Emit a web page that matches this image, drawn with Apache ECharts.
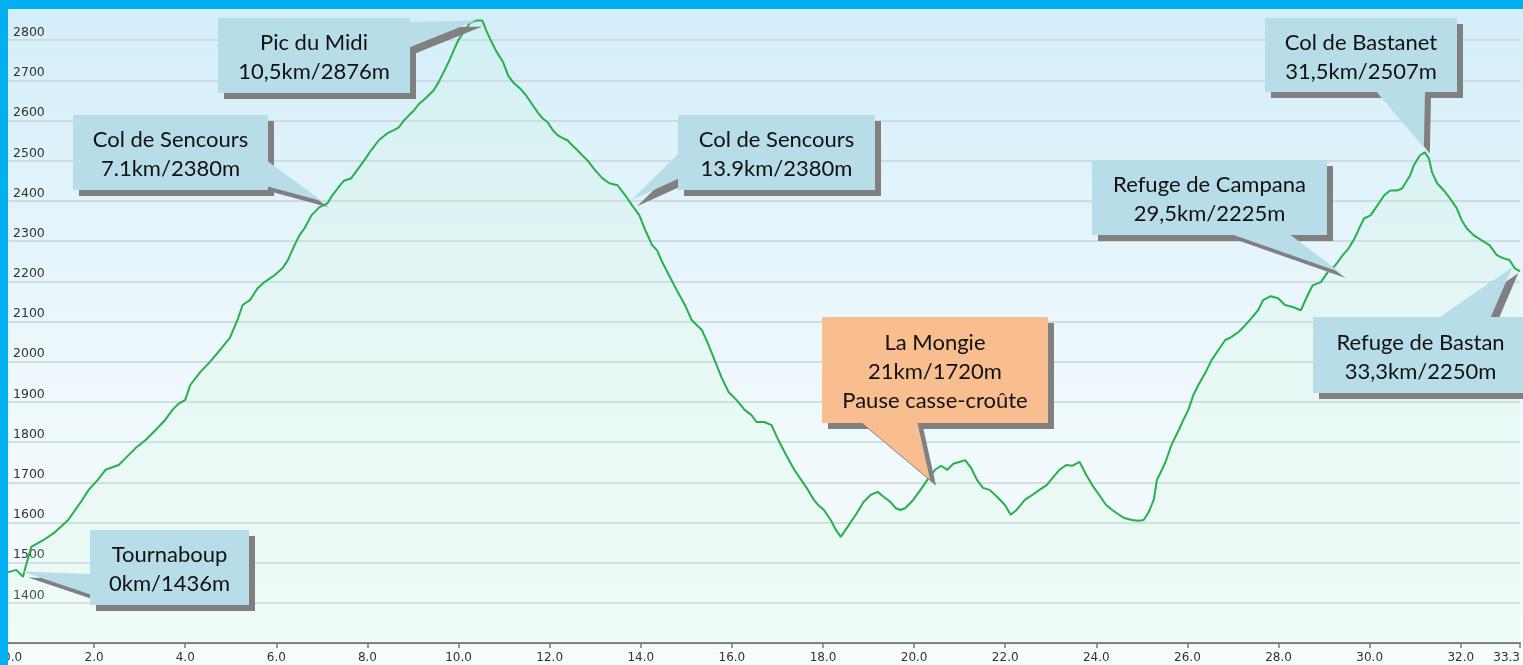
<!DOCTYPE html>
<html>
<head>
<meta charset="utf-8">
<title>Profil altimétrique</title>
<script src="https://cdn.jsdelivr.net/npm/echarts@6/dist/echarts.min.js"></script>
<style>
  html, body {margin: 0; padding: 0; background: #fff;}
  #chart {width: 1523px; height: 665px;}
</style>
</head>
<body>
<div id="chart"></div>
<script>
// distance along the route (km) and elevation (m)
const distanceKm = [
    0.00, 0.14, 0.29, 0.44, 0.49, 0.62, 0.90, 1.12, 1.43, 1.71,
    1.88, 2.08, 2.25, 2.54, 2.69, 2.91, 3.13, 3.35, 3.56, 3.72,
    3.85, 4.00, 4.11, 4.33, 4.54, 4.76, 4.98, 5.16, 5.26, 5.42,
    5.59, 5.74, 5.96, 6.14, 6.25, 6.40, 6.51, 6.62, 6.77, 6.94,
    7.12, 7.23, 7.38, 7.49, 7.64, 7.77, 7.93, 8.08, 8.25, 8.43,
    8.58, 8.69, 8.80, 8.91, 9.02, 9.12, 9.30, 9.45, 9.56, 9.67,
    9.78, 9.89, 9.99, 10.13, 10.26, 10.39, 10.52, 10.61, 10.69, 10.82,
    10.98, 11.09, 11.20, 11.35, 11.48, 11.63, 11.74, 11.85, 11.96, 12.07,
    12.18, 12.29, 12.39, 12.50, 12.61, 12.72, 12.83, 13.00, 13.16, 13.31,
    13.49, 13.66, 13.81, 13.97, 14.10, 14.25, 14.36, 14.47, 14.62, 14.79,
    14.97, 15.12, 15.34, 15.49, 15.62, 15.78, 15.93, 16.10, 16.28, 16.43,
    16.54, 16.71, 16.87, 17.02, 17.19, 17.37, 17.52, 17.67, 17.80, 17.89,
    18.02, 18.17, 18.28, 18.39, 18.50, 18.61, 18.72, 18.89, 19.05, 19.20,
    19.33, 19.48, 19.59, 19.70, 19.81, 19.98, 20.14, 20.29, 20.46, 20.59,
    20.73, 20.86, 21.01, 21.12, 21.25, 21.38, 21.51, 21.66, 21.82, 21.99,
    22.12, 22.25, 22.43, 22.60, 22.75, 22.91, 23.04, 23.19, 23.34, 23.47,
    23.63, 23.78, 23.91, 24.06, 24.21, 24.35, 24.50, 24.61, 24.78, 24.93,
    25.04, 25.15, 25.26, 25.33, 25.44, 25.52, 25.65, 25.81, 25.91, 26.02,
    26.13, 26.24, 26.40, 26.53, 26.68, 26.83, 26.96, 27.12, 27.27, 27.40,
    27.55, 27.66, 27.83, 27.99, 28.14, 28.31, 28.49, 28.64, 28.75, 28.93,
    29.08, 29.19, 29.30, 29.41, 29.54, 29.67, 29.80, 29.88, 30.02, 30.17,
    30.32, 30.45, 30.60, 30.71, 30.89, 30.97, 31.10, 31.21, 31.30, 31.37,
    31.48, 31.63, 31.76, 31.91, 32.02, 32.13, 32.28, 32.46, 32.63, 32.79,
    32.94, 33.07, 33.18, 33.30
];
const elevationM = [
    1476, 1477, 1482, 1465, 1487, 1539, 1557, 1574, 1606, 1651,
    1681, 1706, 1731, 1743, 1760, 1785, 1805, 1830, 1855, 1880,
    1895, 1905, 1942, 1974, 1999, 2029, 2059, 2108, 2141, 2153,
    2183, 2198, 2215, 2233, 2252, 2290, 2315, 2332, 2364, 2384,
    2394, 2414, 2436, 2451, 2456, 2476, 2501, 2526, 2551, 2568,
    2576, 2583, 2600, 2613, 2625, 2640, 2658, 2675, 2695, 2720,
    2745, 2774, 2799, 2824, 2844, 2849, 2849, 2824, 2804, 2774,
    2745, 2712, 2695, 2680, 2663, 2638, 2620, 2605, 2595, 2576,
    2563, 2556, 2551, 2538, 2526, 2513, 2501, 2476, 2456, 2444,
    2439, 2414, 2389, 2364, 2327, 2290, 2277, 2248, 2215, 2178,
    2141, 2103, 2079, 2041, 2004, 1959, 1924, 1905, 1880, 1867,
    1850, 1850, 1842, 1805, 1768, 1731, 1706, 1681, 1656, 1644,
    1631, 1606, 1582, 1564, 1582, 1601, 1619, 1651, 1669, 1676,
    1664, 1651, 1636, 1631, 1636, 1656, 1681, 1706, 1731, 1741,
    1731, 1746, 1751, 1755, 1736, 1706, 1686, 1681, 1664, 1644,
    1619, 1631, 1656, 1669, 1681, 1693, 1711, 1731, 1743, 1741,
    1751, 1718, 1693, 1669, 1644, 1631, 1619, 1611, 1606, 1604,
    1606, 1626, 1656, 1706, 1731, 1751, 1793, 1830, 1855, 1880,
    1917, 1942, 1974, 2004, 2029, 2054, 2061, 2074, 2091, 2108,
    2128, 2153, 2163, 2158, 2141, 2136, 2128, 2166, 2190, 2198,
    2223, 2233, 2248, 2265, 2282, 2307, 2339, 2357, 2364, 2389,
    2414, 2426, 2426, 2431, 2464, 2489, 2513, 2521, 2506, 2471,
    2444, 2426, 2407, 2382, 2352, 2332, 2315, 2302, 2290, 2265,
    2257, 2253, 2233, 2225
];

// callout texts and the point of the profile (km, m) each pointer touches
const calloutLabels = [
    'Tournaboup\n0km/1436m',
    'Col de Sencours\n7.1km/2380m',
    'Pic du Midi\n10,5km/2876m',
    'Col de Sencours\n13.9km/2380m',
    'La Mongie\n21km/1720m\nPause casse-croûte',
    'Col de Bastanet\n31,5km/2507m',
    'Refuge de Campana\n29,5km/2225m',
    'Refuge de Bastan\n33,3km/2250m'
];
const calloutAnchors = [
    [0.42, 1478], [7.01, 2399], [10.39, 2849], [13.79, 2402],
    [20.35, 1706], [31.19, 2533], [29.34, 2223], [33.13, 2235]
];

// box layout in px; the pointer leaves the box on `side` between offsets a and b
const calloutBoxes = [
    {x: 90, y: 530, w: 159, h: 75, side: 'left', a: 44, b: 65},
    {x: 73, y: 115, w: 195, h: 75, side: 'right', a: 45, b: 71},
    {x: 218, y: 18, w: 192, h: 75, side: 'right', a: 4, b: 30},
    {x: 678, y: 115, w: 197, h: 75, side: 'left', a: 37, b: 63},
    {x: 822, y: 317, w: 226, h: 106, side: 'bottom', a: 38, b: 95, color: '#f9be8f'},
    {x: 1265, y: 18, w: 192, h: 74, side: 'bottom', a: 110, b: 160},
    {x: 1092, y: 160, w: 235, h: 75, side: 'bottom', a: 136, b: 196},
    {x: 1313, y: 317, w: 215, h: 76, side: 'top', a: 124, b: 177}
];

const BOX_COLOR = '#b7dde8';
const SHADOW_COLOR = '#808080';
const SHADOW_OFFSET = 6;

const chart = echarts.init(document.getElementById('chart'));

const option = {
    animation: false,
    backgroundColor: new echarts.graphic.LinearGradient(0, 0, 0, 1, [
        {offset: 0, color: '#d3eef9'},
        {offset: 0.55, color: '#eef8fc'},
        {offset: 1, color: '#f7fcfd'}
    ]),
    grid: {left: 1.6, right: -5.6, top: -1, bottom: 22},
    xAxis: {
        type: 'value',
        min: 0,
        max: 33.3,
        interval: 2,
        axisLine: {show: true, lineStyle: {color: '#7a7a7a', width: 2}},
        axisTick: {show: true, length: 5, lineStyle: {color: '#7a7a7a', width: 1.5}},
        axisLabel: {
            color: '#333',
            fontFamily: 'DejaVu Sans',
            fontSize: 12,
            margin: 9,
            showMinLabel: true,
            showMaxLabel: true,
            alignMinLabel: 'left',
            alignMaxLabel: 'right',
            formatter: v => v.toFixed(1)
        },
        splitLine: {show: false}
    },
    yAxis: {
        type: 'value',
        min: 1300,
        max: 2900,
        interval: 100,
        axisLine: {show: false},
        axisTick: {show: false},
        axisLabel: {
            inside: true,
            margin: 10,
            verticalAlign: 'bottom',
            color: '#333',
            fontFamily: 'DejaVu Sans',
            fontSize: 12.5,
            padding: [0, 0, 1, 0],
            showMinLabel: false,
            showMaxLabel: false,
            formatter: v => String(v)
        },
        splitLine: {lineStyle: {color: '#c6d5da', width: 1.5}}
    },
    series: [{
        type: 'line',
        data: distanceKm.map((km, i) => [km, elevationM[i]]),
        showSymbol: false,
        smooth: false,
        lineStyle: {color: '#27b04c', width: 2},
        areaStyle: {color: 'rgba(195, 250, 210, 0.22)', origin: 'start'}
    }]
};

chart.setOption(option);

// callouts: gray drop shadow, box + pointer, then the text
function basePoints (box){
    let {x, y, w, h, side, a, b} = box;
    // base is pushed 2px into the box to hide the seam
    if (side === 'left') return [[x + 2, y + a], [x + 2, y + b]];
    if (side === 'right') return [[x + w - 2, y + a], [x + w - 2, y + b]];
    if (side === 'top') return [[x + a, y + 2], [x + b, y + 2]];
    return [[x + a, y + h - 2], [x + b, y + h - 2]];
}

const graphics = [];
calloutBoxes.forEach((box, i) => {
    let tip = chart.convertToPixel({gridIndex: 0}, calloutAnchors[i]);
    let [p0, p1] = basePoints(box);
    let d = SHADOW_OFFSET;
    graphics.push({
        type: 'rect', z: 50, silent: true,
        shape: {x: box.x + d, y: box.y + d, width: box.w, height: box.h},
        style: {fill: SHADOW_COLOR}
    });
    graphics.push({
        type: 'polygon', z: 50, silent: true,
        shape: {points: [[p0[0] + d, p0[1] + d], [p1[0] + d, p1[1] + d], [tip[0] + d, tip[1] + d]]},
        style: {fill: SHADOW_COLOR}
    });
    graphics.push({
        type: 'rect', z: 51, silent: true,
        shape: {x: box.x, y: box.y, width: box.w, height: box.h},
        style: {fill: box.color || BOX_COLOR}
    });
    graphics.push({
        type: 'polygon', z: 51, silent: true,
        shape: {points: [p0, p1, tip]},
        style: {fill: box.color || BOX_COLOR}
    });
    graphics.push({
        type: 'text', z: 52, silent: true,
        style: {
            text: calloutLabels[i],
            x: box.x + box.w / 2,
            y: box.y + box.h / 2 + 2,
            textAlign: 'center',
            textVerticalAlign: 'middle',
            align: 'center',
            verticalAlign: 'middle',
            fontFamily: 'Lato',
            fontSize: 22,
            lineHeight: 29,
            fill: '#111'
        }
    });
});

// blue frame on the top and left edges
graphics.push({type: 'rect', z: 60, silent: true, shape: {x: 0, y: 0, width: 1523, height: 9}, style: {fill: '#00b0f0'}});
graphics.push({type: 'rect', z: 60, silent: true, shape: {x: 0, y: 0, width: 8, height: 665}, style: {fill: '#00b0f0'}});

chart.setOption({graphic: graphics});
</script>
</body>
</html>
